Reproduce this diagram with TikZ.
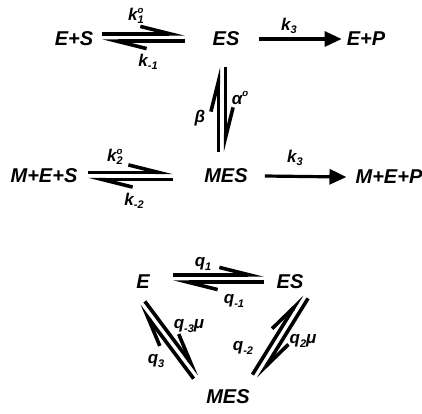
\documentclass[tikz,border=0pt]{standalone}
\usepackage{fontspec}
\setmainfont{Liberation Sans}
\usetikzlibrary{arrows.meta,calc}
\newcommand{\rk}[3]{#1\rlap{\raisebox{0.42em}{\fontsize{9.6}{9.6}\selectfont #3}}%
  \raisebox{-0.2em}{\fontsize{11}{11}\selectfont #2}}
\newcommand{\eqlb}[2]{%
  \draw[harp] ($(#1)!3.6pt!90:(#2)$) -- ($(#2)!3.6pt!-90:(#1)$);
  \draw[harp] ($(#2)!3.6pt!90:(#1)$) -- ($(#1)!3.6pt!-90:(#2)$);}
\tikzset{
  spec/.style={font=\fontsize{20}{20}\selectfont\bfseries\itshape, inner sep=0pt},
  rate/.style={font=\fontsize{17}{17}\selectfont\bfseries\itshape, inner sep=0pt},
  harp/.style={line width=3.6pt, -{Straight Barb[left, length=30pt, width=15pt, line width=3.6pt]}},
  arr/.style={line width=3.2pt, -{Triangle[length=17pt, width=15pt]}},
}
\begin{document}
\begin{tikzpicture}[x=1pt, y=-1pt]
  \useasboundingbox (0,0) rectangle (422,413);
  % scheme with modifier M
  \node[spec] (es1) at (74,39) {E+S};
  \node[spec] (es) at (226,39) {ES};
  \node[spec] (ep) at (366,39) {E+P};
  \node[spec] (mes1) at (44,176) {M+E+S};
  \node[spec] (mes) at (226,176) {MES};
  \node[spec] (mep) at (389,177) {M+E+P};
  \eqlb{[xshift=28pt,yshift=1.5pt]es1.center}{[xshift=-41pt,yshift=1.5pt]es.center}
  \eqlb{[xshift=-4pt,yshift=-28pt]es.center}{[xshift=-4pt,yshift=24pt]mes.center}
  \eqlb{[xshift=44pt]mes1.center}{[xshift=-53pt]mes.center}
  \draw[arr] ([xshift=19pt]es.east) -- ([xshift=-5pt]ep.west);
  \draw[arr] ([xshift=17pt]mes.east) -- ([xshift=-9pt]mep.west);
  \node[rate] (k1) at (136,16) {\rk{k}{1}{o}};
  \node[rate] (km1) at (148,62) {\rk{k}{-1}{}};
  \node[rate] (k3a) at (289,26) {\rk{k}{3}{}};
  \node[rate] (al) at (240,98) {α\raisebox{0.42em}{\fontsize{9.6}{9.6}\selectfont o}};
  \node[rate] (be) at (200,118) {β};
  \node[rate] (k2) at (115,157) {\rk{k}{2}{o}};
  \node[rate] (km2) at (134,201) {\rk{k}{-2}{}};
  \node[rate] (k3b) at (295,158) {\rk{k}{3}{}};
  % cycle
  \node[spec] (te) at (143,282) {E};
  \node[spec] (tes) at (290,282) {ES};
  \node[spec] (tmes) at (228,397) {MES};
  \eqlb{[xshift=30pt,yshift=3.5pt]te.center}{[xshift=-26pt,yshift=3.5pt]tes.center}
  \eqlb{[xshift=-1pt,yshift=-21.5pt]te.center}{[xshift=-31.5pt,yshift=20.5pt]tmes.center}
  \eqlb{[xshift=15pt,yshift=-14.5pt]tes.center}{[xshift=27.5pt,yshift=20.5pt]tmes.center}
  \node[rate] (q1) at (203,264) {\rk{q}{1}{}};
  \node[rate] (qm1) at (234,301) {\rk{q}{-1}{}};
  \node[rate] (qm3) at (189,326) {\rk{q}{-3}{}μ};
  \node[rate] (q3) at (156,361) {\rk{q}{3}{}};
  \node[rate] (qm2) at (243,348) {\rk{q}{-2}{}};
  \node[rate] (q2) at (303,341) {\rk{q}{2}{}μ};
\end{tikzpicture}
\end{document}
